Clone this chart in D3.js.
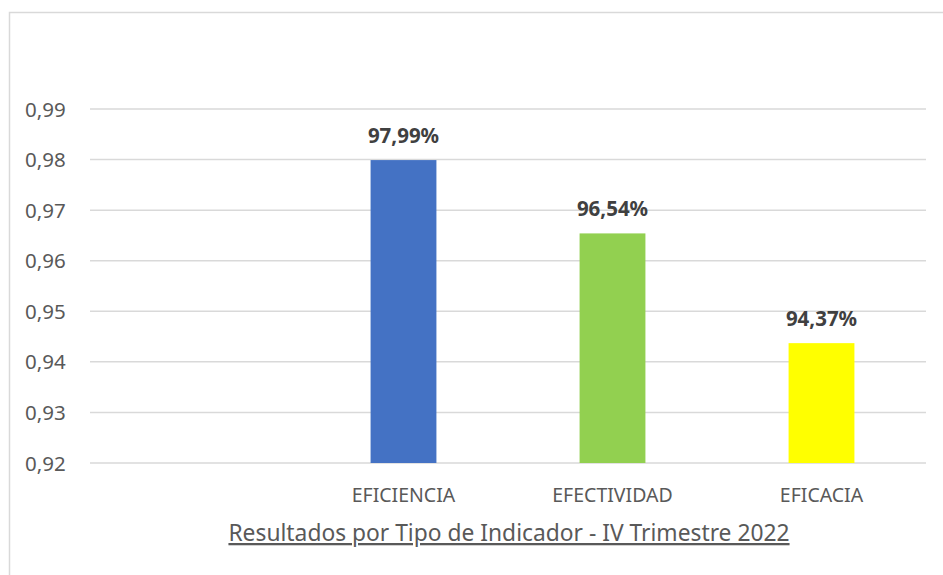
<!DOCTYPE html>
<html>
<head>
<meta charset="utf-8">
<script src="https://cdn.jsdelivr.net/npm/d3@7"></script>
<style>
  body { margin: 0; background: #fff; }
  svg { display: block; }
  .tick-label { font-family: "Noto Sans", sans-serif; font-size: 20.5px; fill: #595959; }
  .cat-label { font-family: "Noto Sans", sans-serif; font-size: 19.5px; fill: #595959; }
  .val-label { font-family: "Noto Sans", sans-serif; font-size: 20.5px; font-weight: bold; fill: #404040; }
  #xtitle { font-family: "Noto Sans", sans-serif; font-size: 22.8px; fill: #595959; text-decoration: underline; }
</style>
</head>
<body>
<script>
// categories (first slot is empty in the original)
var categories = ["", "EFICIENCIA", "EFECTIVIDAD", "EFICACIA"];
var values = [null, 0.9799, 0.9654, 0.9437];
var valueLabels = ["", "97,99%", "96,54%", "94,37%"];
var barColors = ["none", "#4472c4", "#92d050", "#ffff00"];
var yTicks = [0.92, 0.93, 0.94, 0.95, 0.96, 0.97, 0.98, 0.99];

var width = 943, height = 575;

var svg = d3.select("body").append("svg")
  .attr("width", width)
  .attr("height", height);

// chart frame
svg.append("rect")
  .attr("x", 9.5).attr("y", 12.5)
  .attr("width", 960).attr("height", 600)
  .attr("fill", "none")
  .attr("stroke", "#d9d9d9")
  .attr("stroke-width", 1.5);

var plotL = 90, plotR = 926, plotT = 109, plotB = 463;

var x = d3.scaleBand()
  .domain(categories.map((d, i) => i))
  .range([plotL, plotR])
  .paddingInner(0.685)
  .paddingOuter(0.3425);

var y = d3.scaleLinear()
  .domain([0.92, 0.99])
  .range([plotB, plotT]);

// gridlines
svg.append("g")
  .selectAll("line")
  .data(yTicks)
  .enter()
  .append("line")
  .attr("x1", plotL).attr("x2", plotR)
  .attr("y1", d => y(d)).attr("y2", d => y(d))
  .attr("stroke", "#d9d9d9")
  .attr("stroke-width", 1.5);

// y tick labels
svg.append("g")
  .selectAll("text")
  .data(yTicks)
  .enter()
  .append("text")
  .attr("class", "tick-label")
  .attr("x", 25)
  .attr("y", d => y(d) + 7.5)
  .text(d => d3.format(".2f")(d).replace(".", ","));

var data = categories.map((c, i) => ({ i: i, cat: c, v: values[i], lab: valueLabels[i], col: barColors[i] }))
  .filter(d => d.v != null);

// bars
svg.append("g")
  .selectAll("rect")
  .data(data)
  .enter()
  .append("rect")
  .attr("x", d => x(d.i))
  .attr("width", x.bandwidth())
  .attr("y", d => y(d.v))
  .attr("height", d => plotB - y(d.v))
  .attr("fill", d => d.col);

// value labels
svg.append("g")
  .selectAll("text")
  .data(data)
  .enter()
  .append("text")
  .attr("class", "val-label")
  .attr("text-anchor", "middle")
  .attr("x", d => x(d.i) + x.bandwidth() / 2)
  .attr("y", d => y(d.v) - 17)
  .text(d => d.lab);

// category labels
svg.append("g")
  .selectAll("text")
  .data(data)
  .enter()
  .append("text")
  .attr("class", "cat-label")
  .attr("text-anchor", "middle")
  .attr("x", d => x(d.i) + x.bandwidth() / 2)
  .attr("y", 502)
  .text(d => d.cat);

// axis title
svg.append("text")
  .attr("id", "xtitle")
  .attr("text-anchor", "middle")
  .attr("x", (plotL + plotR) / 2 + 1)
  .attr("y", 541)
  .text("Resultados por Tipo de Indicador - IV Trimestre 2022");
</script>
</body>
</html>
